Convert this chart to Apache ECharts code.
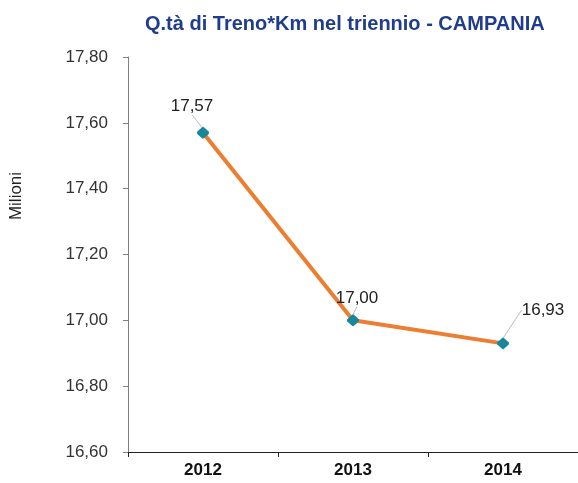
<!DOCTYPE html>
<html>
<head>
<meta charset="utf-8">
<script src="https://cdn.jsdelivr.net/npm/echarts@6/dist/echarts.min.js"></script>
<style>
  html, body { margin: 0; padding: 0; background: #fff; }
  #chart { width: 578px; height: 483px; }
</style>
</head>
<body>
<div id="chart"></div>
<script>
var years = ['2012', '2013', '2014'];
var treniKm = [17.57, 17.00, 16.93];
var yTicks = [16.6, 17.8, 0.2];

function fmt(v) {
  return v.toFixed(2).replace('.', ',');
}

// spostamento etichette
var labelShift = [
  { dx: -11, dy: -7 },
  { dx: 4, dy: -3 },
  { dx: 40, dy: -14 }
];

var chart = echarts.init(document.getElementById('chart'));
var option = {
  animation: false,
  textStyle: { fontFamily: 'Liberation Sans, Arial, sans-serif' },
  title: {
    text: 'Q.tà di Treno*Km nel triennio - CAMPANIA',
    left: 140,
    top: 9,
    textStyle: {
      color: '#1F3D8C',
      fontSize: 20,
      fontWeight: 'bold'
    }
  },
  graphic: [
    {
      type: 'text',
      x: 16,
      y: 196,
      rotation: Math.PI / 2,
      style: {
        text: 'Milioni',
        fill: '#222',
        font: '17px Liberation Sans, Arial, sans-serif',
        align: 'center',
        verticalAlign: 'middle'
      }
    }
  ],
  grid: {
    left: 128,
    top: 57,
    right: 0,
    bottom: 31
  },
  xAxis: {
    type: 'category',
    data: years,
    axisLine: { lineStyle: { color: '#222', width: 1 } },
    axisTick: { show: true, length: 5, lineStyle: { color: '#222' } },
    axisLabel: {
      color: '#111',
      fontSize: 17,
      fontWeight: 'bold',
      margin: 10
    }
  },
  yAxis: {
    type: 'value',
    min: yTicks[0],
    max: yTicks[1],
    interval: yTicks[2],
    axisLine: { show: true, lineStyle: { color: '#808080' } },
    axisTick: { show: true, length: 5, lineStyle: { color: '#808080' } },
    splitLine: { show: false },
    axisLabel: {
      color: '#333',
      fontSize: 17,
      margin: 20,
      formatter: fmt
    }
  },
  series: [
    {
      type: 'line',
      data: treniKm,
      symbol: 'path://M10,0 Q11,0 19,8 Q20,10 19,12 Q11,20 10,20 Q9,20 1,12 Q0,10 1,8 Q9,0 10,0 Z',
      symbolSize: 12,
      lineStyle: { color: '#ED7D31', width: 4 },
      itemStyle: { color: '#17879B' },
      z: 3,
      label: {
        show: true,
        position: 'top',
        color: '#222',
        fontSize: 17,
        formatter: function (p) { return fmt(p.value); }
      },
      labelLine: {
        show: true,
        lineStyle: { color: '#BBBBBB', width: 1 }
      },
      labelLayout: function (params) {
        return labelShift[params.dataIndex];
      }
    }
  ]
};
chart.setOption(option);
</script>
</body>
</html>
